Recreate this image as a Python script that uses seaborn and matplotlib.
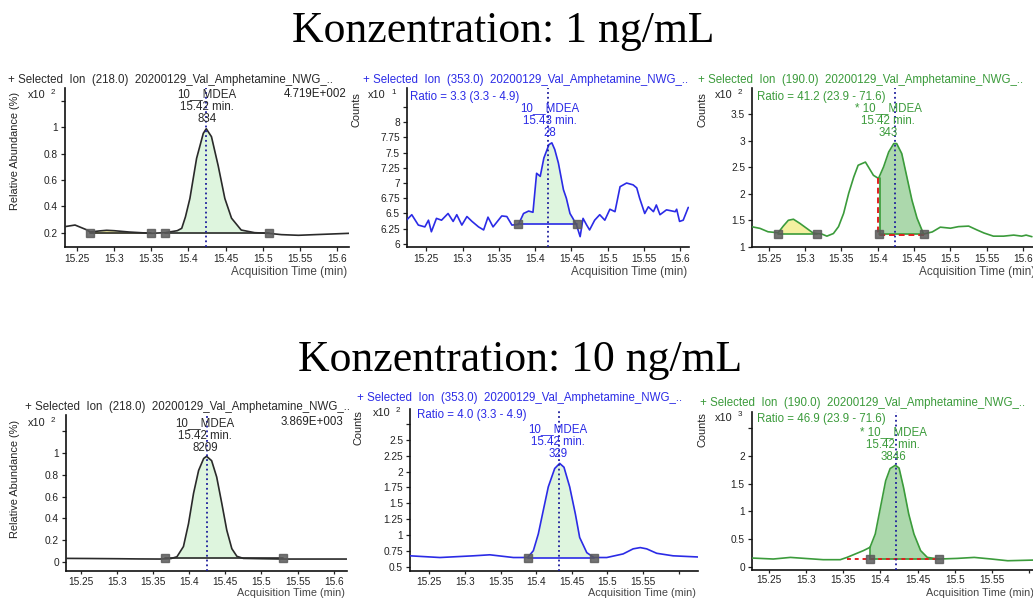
import numpy as np
import pandas as pd
import matplotlib
matplotlib.use("Agg")
import matplotlib.pyplot as plt
import seaborn as sns

W, H = 1033, 598

titles = ["Konzentration: 1 ng/mL", "Konzentration: 10 ng/mL"]
x_ticks = [15.25, 15.3, 15.35, 15.4, 15.45, 15.5, 15.55, 15.6]

# 1 ng/mL, Ion 218
p1_t = [15.234, 15.2475, 15.263, 15.268, 15.280, 15.290, 15.300, 15.310, 15.320, 15.335, 15.350,
        15.369, 15.385, 15.391, 15.396, 15.402, 15.411, 15.420, 15.424, 15.431, 15.440, 15.449,
        15.458, 15.471, 15.489, 15.508, 15.525, 15.548, 15.570, 15.593, 15.616]
p1_y = [0.246, 0.258, 0.222, 0.205, 0.213, 0.218, 0.215, 0.210, 0.205, 0.200, 0.195,
        0.200, 0.215, 0.233, 0.32, 0.46, 0.765, 0.955, 0.99, 0.93, 0.71, 0.46,
        0.31, 0.22, 0.20, 0.195, 0.185, 0.18, 0.185, 0.19, 0.195]

# 1 ng/mL, Ion 353
p2_t = [15.221, 15.230, 15.239, 15.248, 15.253, 15.257, 15.264, 15.271, 15.280, 15.287, 15.292,
        15.299, 15.306, 15.313, 15.322, 15.329, 15.335, 15.342, 15.354, 15.361, 15.368, 15.377,
        15.384, 15.391, 15.397, 15.402, 15.407, 15.412, 15.419, 15.423, 15.427, 15.432, 15.439,
        15.443, 15.448, 15.452, 15.457, 15.462, 15.466, 15.471, 15.475, 15.482, 15.489, 15.496,
        15.503, 15.510, 15.517, 15.526, 15.535, 15.540, 15.544, 15.551, 15.556, 15.563, 15.567,
        15.572, 15.581, 15.593, 15.595, 15.599, 15.604, 15.611]
p2_y = [6.37, 6.48, 6.31, 6.28, 6.39, 6.20, 6.42, 6.39, 6.50, 6.37, 6.48,
        6.31, 6.45, 6.37, 6.28, 6.23, 6.44, 6.28, 6.46, 6.45, 6.31, 6.32,
        6.50, 6.54, 6.52, 7.16, 7.11, 7.41, 7.63, 7.66, 7.55, 7.33, 6.89,
        6.75, 6.50, 6.42, 6.31, 6.12, 6.42, 6.31, 6.23, 6.39, 6.48, 6.39,
        6.57, 6.53, 6.94, 7.00, 6.97, 6.92, 6.75, 6.50, 6.61, 6.53, 6.64,
        6.48, 6.56, 6.53, 6.57, 6.37, 6.39, 6.60]

# 1 ng/mL, Ion 190
p3_t = [15.227, 15.238, 15.249, 15.263, 15.270, 15.277, 15.284, 15.293, 15.302, 15.311, 15.316,
        15.323, 15.330, 15.339, 15.346, 15.353, 15.360, 15.367, 15.373, 15.383, 15.387, 15.394,
        15.401, 15.408, 15.415, 15.422, 15.426, 15.433, 15.440, 15.447, 15.454, 15.463, 15.475,
        15.486, 15.500, 15.511, 15.525, 15.536, 15.546, 15.559, 15.573, 15.587, 15.598, 15.604,
        15.612]
p3_y = [1.377, 1.347, 1.283, 1.264, 1.39, 1.50, 1.52, 1.44, 1.35, 1.26, 1.25,
        1.24, 1.20, 1.25, 1.38, 1.63, 2.01, 2.32, 2.54, 2.60, 2.51, 2.35,
        2.29, 2.51, 2.79, 2.95, 2.95, 2.76, 2.32, 1.88, 1.54, 1.24, 1.28,
        1.37, 1.35, 1.38, 1.39, 1.32, 1.26, 1.20, 1.20, 1.22, 1.20, 1.22,
        1.19]

# 10 ng/mL, Ion 218
p4_t = [15.230, 15.26, 15.30, 15.33, 15.359, 15.366, 15.375, 15.383, 15.392, 15.399, 15.406,
        15.413, 15.420, 15.424, 15.431, 15.438, 15.445, 15.452, 15.459, 15.466, 15.475, 15.50,
        15.530, 15.56, 15.59, 15.618]
p4_y = [0.031, 0.030, 0.028, 0.026, 0.025, 0.027, 0.030, 0.046, 0.14, 0.35, 0.63,
        0.84, 0.95, 0.97, 0.93, 0.78, 0.54, 0.29, 0.12, 0.05, 0.031, 0.028,
        0.025, 0.025, 0.025, 0.025]

# 10 ng/mL, Ion 353
p5_t = [15.223, 15.265, 15.312, 15.335, 15.368, 15.388, 15.396, 15.403, 15.410, 15.417, 15.426,
        15.433, 15.439, 15.447, 15.455, 15.461, 15.471, 15.481, 15.499, 15.522, 15.536, 15.546,
        15.555, 15.569, 15.592, 15.630]
p5_y = [0.67, 0.643, 0.67, 0.686, 0.643, 0.643, 0.75, 1.016, 1.39, 1.76, 2.05,
        2.13, 2.07, 1.76, 1.33, 0.96, 0.72, 0.643, 0.643, 0.70, 0.78, 0.80,
        0.78, 0.71, 0.67, 0.65]

# 10 ng/mL, Ion 190
p6_t = [15.227, 15.256, 15.279, 15.323, 15.346, 15.355, 15.377, 15.386, 15.393, 15.400, 15.407,
        15.413, 15.420, 15.425, 15.431, 15.438, 15.445, 15.454, 15.463, 15.479, 15.503, 15.526,
        15.549, 15.571, 15.606]
p6_y = [0.157, 0.139, 0.168, 0.127, 0.127, 0.168, 0.29, 0.35, 0.59, 1.07, 1.55,
        1.77, 1.83, 1.78, 1.43, 0.95, 0.59, 0.29, 0.168, 0.139, 0.15, 0.168,
        0.139, 0.108, 0.12]

headers = ["+ Selected  Ion  (218.0)  20200129_Val_Amphetamine_NWG_..",
           "+ Selected  Ion  (353.0)  20200129_Val_Amphetamine_NWG_..",
           "+ Selected  Ion  (190.0)  20200129_Val_Amphetamine_NWG_..",
           "+ Selected  Ion  (218.0)  20200129_Val_Amphetamine_NWG_..",
           "+ Selected  Ion  (353.0)  20200129_Val_Amphetamine_NWG_..",
           "+ Selected  Ion  (190.0)  20200129_Val_Amphetamine_NWG_.."]
ratios = [None, "Ratio = 3.3 (3.3 - 4.9)", "Ratio = 41.2 (23.9 - 71.6)",
          None, "Ratio = 4.0 (3.3 - 4.9)", "Ratio = 46.9 (23.9 - 71.6)"]
peak_names = ["10__MDEA", "10__MDEA", "* 10__MDEA", "10__MDEA", "10__MDEA", "* 10__MDEA"]
peak_rts = ["15.42 min.", "15.43 min.", "15.42 min.", "15.42 min.", "15.42 min.", "15.42 min."]
peak_areas = ["834", "28", "343", "8209", "329", "3846"]
abund = ["4.719E+002", None, None, "3.869E+003", None, None]
exps = ["2", "1", "2", "2", "2", "3"]
ylabels = ["Relative Abundance (%)", "Counts", "Counts",
           "Relative Abundance (%)", "Counts", "Counts"]
y_ticks = [[0.2, 0.4, 0.6, 0.8, 1.0],
           [6, 6.25, 6.5, 6.75, 7, 7.25, 7.5, 7.75, 8],
           [1, 1.5, 2, 2.5, 3, 3.5],
           [0, 0.2, 0.4, 0.6, 0.8, 1.0],
           [0.5, 0.75, 1, 1.25, 1.5, 1.75, 2, 2.25, 2.5],
           [0, 0.5, 1, 1.5, 2]]
y_extra = [[1.2], [8.25], [], [1.2], [2.75], [2.5]]
rt_line = [15.424, 15.418, 15.424, 15.424, 15.432, 15.421]
# Integrationsbereiche: (start, ende, basis, farbe)
regions = [[(15.268, 15.350, 0.195, "y"), (15.369, 15.508, 0.195, "g")],
           [(15.377, 15.457, 6.33, "g")],
           [(15.263, 15.316, 1.25, "y"), (15.401, 15.463, 1.24, "G")],
           [(15.366, 15.530, 0.03, "g")],
           [(15.388, 15.481, 0.643, "g")],
           [(15.386, 15.479, 0.14, "G")]]

traces = [(p1_t, p1_y), (p2_t, p2_y), (p3_t, p3_y), (p4_t, p4_y), (p5_t, p5_y), (p6_t, p6_y)]

# --- Layout (Pixel) ---
boxes = [(65, 88, 349, 247), (406.7, 88, 689, 247), (752, 88, 1037, 247),
         (65.7, 415, 346.7, 571), (410, 409, 698, 571), (751.7, 412, 1036, 569.5)]
ylims = [(0.091, 1.30), (5.95, 8.56), (0.995, 4.0), (-0.085, 1.35), (0.43, 2.99), (-0.05, 2.79)]
xlims = [(15.234, 15.616), (15.223, 15.612), (15.227, 15.619), (15.229, 15.618),
         (15.223, 15.627), (15.227, 15.609)]
colors = ["#2a2a2a", "#2b2be6", "#3b9b3b", "#2a2a2a", "#2b2be6", "#3b9b3b"]
fills = {"g": "#def5de", "G": "#acd8ac", "y": "#f4f0a0"}

header_pos = [(8, 80), (363, 80), (698, 80), (25, 407), (357, 398), (700, 403)]
ratio_pos = [None, (410, 97), (757, 97), None, (417, 415), (757, 419)]
label_pos = [(207, 94), (550, 108), (888, 108), (205, 423), (558, 429), (893, 432)]
abund_pos = [(347, 94), None, None, (343, 422), None, None]
exp_pos = [(28, 95), (368, 95), (715, 95), (28, 423), (373, 413), (715, 418)]
ylab_pos = [(15, 92), (357, 92), (702, 92), (15, 420), (359, 410), (702, 412)]
xlab_y = [272, 272, 272, 593, 593, 593]

sns.set_theme(style="ticks")
plt.rcParams["font.family"] = ["Liberation Sans", "DejaVu Sans"]

fig = plt.figure(figsize=(W / 100, H / 100), dpi=100)
fig.patch.set_facecolor("white")


def fx(px):
    return px / W


def fy(py):
    return 1 - py / H


fig.text(fx(503), fy(42), titles[0], ha="center", va="baseline",
         fontsize=31.5, family="Liberation Serif", color="black")
fig.text(fx(520.5), fy(371.5), titles[1], ha="center", va="baseline",
         fontsize=31.5, family="Liberation Serif", color="black")

fs = 8.3
for i in range(6):
    l, t, r, b = boxes[i]
    ax = fig.add_axes([fx(l), fy(b), (r - l) / W, (b - t) / H])
    c = colors[i]
    tt = np.array(traces[i][0])
    yy = np.array(traces[i][1])

    for (t0, t1, base, fc) in regions[i]:
        m = (tt >= t0 - 1e-9) & (tt <= t1 + 1e-9)
        ax.fill_between(tt[m], yy[m], base, color=fills[fc], lw=0, zorder=1)
        ax.plot([t0, t1], [base, base], color=c, lw=1.2, zorder=3)

    df = pd.DataFrame({"t": tt, "v": yy})
    sns.lineplot(data=df, x="t", y="v", ax=ax, color=c, linewidth=1.2,
                 estimator=None, sort=False, zorder=4)

    # Sonderfaelle: manuelle Integration (rot gestrichelt)
    if i == 2:
        ax.plot([15.400, 15.400, 15.463], [2.29, 1.22, 1.22], color="#e02020",
                lw=1.4, ls=(0, (3, 2)), zorder=5)
        ax.plot([15.403, 15.403], [1.24, 2.30], color=c, lw=1.2, zorder=5)
    if i == 5:
        ax.plot([15.355, 15.479], [0.14, 0.14], color="#e02020", lw=1.4,
                ls=(0, (2, 2)), zorder=5)
        ax.plot([15.386, 15.386], [0.14, 0.35], color=c, lw=1.2, zorder=5)

    mk = [r_[0] for r_ in regions[i]] + [r_[1] for r_ in regions[i]]
    mb = [r_[2] for r_ in regions[i]] * 2
    ax.plot(mk, mb, ls="none", marker="s", ms=5.5, color="#5a5a5a", alpha=0.85, zorder=6)

    ax.axvline(rt_line[i], color="#1c1c9c", ls=":", lw=1.3, zorder=7)

    ax.set_xlim(*xlims[i])
    ax.set_ylim(*ylims[i])
    xt_labels = ["%g" % v for v in x_ticks]
    if i in (4, 5):
        xt_labels[-1] = ""
    ax.set_xticks(x_ticks)
    ax.set_xticklabels(xt_labels)
    yt = y_ticks[i] + y_extra[i]
    ax.set_yticks(yt)
    ax.set_yticklabels(["%g" % v for v in y_ticks[i]] + [""] * len(y_extra[i]))
    ax.set_xlabel("")
    ax.set_ylabel("")
    ax.tick_params(axis="both", direction="out", length=3, width=0.9, pad=2,
                   labelsize=7.3, colors="#222222")
    if i >= 3:
        ax.tick_params(axis="x", pad=1.5, length=2.5)
    sns.despine(ax=ax)
    for s in ("left", "bottom"):
        ax.spines[s].set_linewidth(1.2)
        ax.spines[s].set_color("#111111")
    ax.set_facecolor("none")

    # Texte
    hx, hy = header_pos[i]
    fig.text(fx(hx), fy(hy), headers[i], ha="left", va="center", fontsize=fs, color=c)
    if ratios[i]:
        rx, ry = ratio_pos[i]
        fig.text(fx(rx), fy(ry), ratios[i], ha="left", va="center", fontsize=fs, color=c)
    lx, ly = label_pos[i]
    for k, s in enumerate([peak_names[i], peak_rts[i], peak_areas[i]]):
        fig.text(fx(lx), fy(ly + k * 12.7), s, ha="center", va="center", fontsize=fs, color=c)
    if abund[i]:
        ax_, ay_ = abund_pos[i]
        fig.text(fx(ax_), fy(ay_), abund[i], ha="right", va="center", fontsize=fs, color="#222222")
    ex, ey = exp_pos[i]
    fig.text(fx(ex), fy(ey), "x10", ha="left", va="center", fontsize=7.8, color="#222222")
    fig.text(fx(ex + 23), fy(ey - 3), exps[i], ha="left", va="center", fontsize=5.8, color="#222222")
    yx, yy_ = ylab_pos[i]
    fig.text(fx(yx), fy(yy_), ylabels[i], ha="center", va="top", rotation=90,
             fontsize=7.9, color="#222222")
    fig.text(fx(r - 2), fy(xlab_y[i]), "Acquisition Time (min)", ha="right", va="center",
             fontsize=8.5 if i < 3 else 7.8, color="#444444")

fig.savefig("out.png", dpi=100, facecolor="white")
